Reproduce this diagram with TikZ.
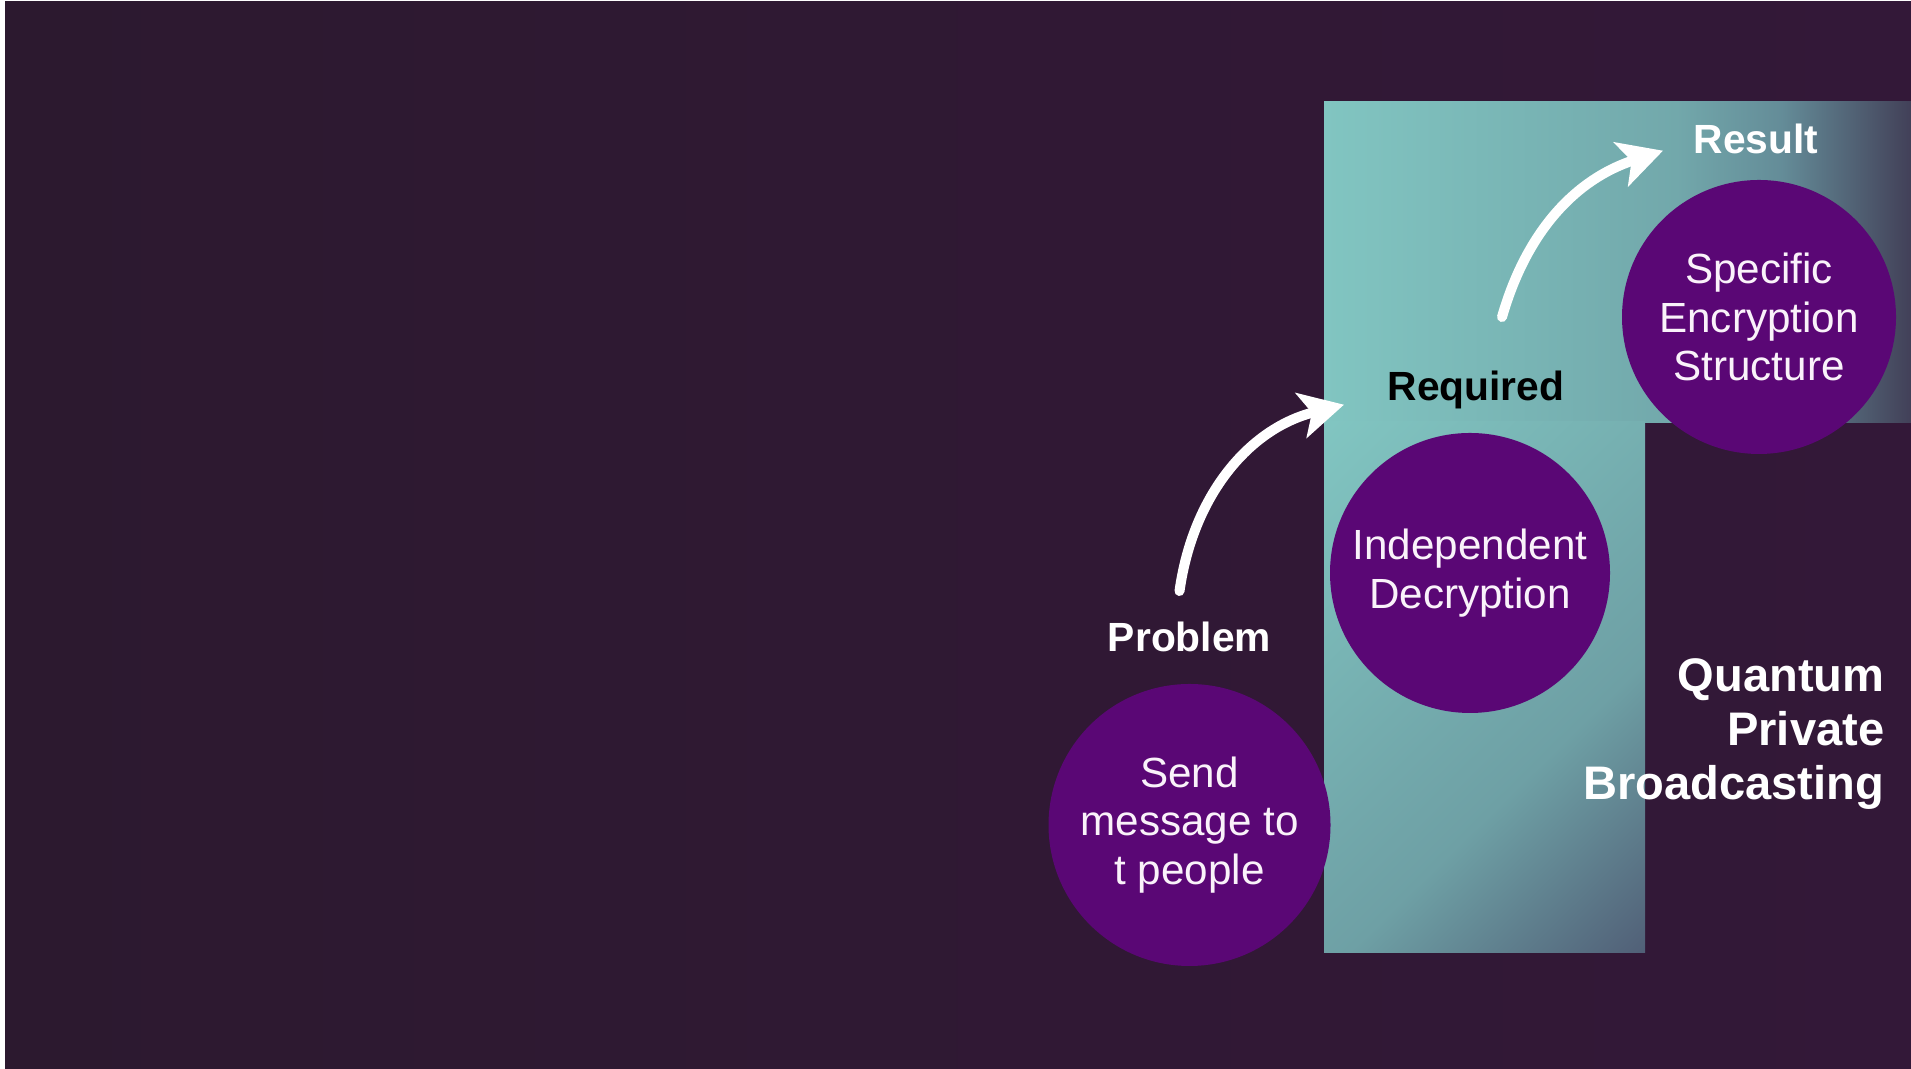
\documentclass[tikz,border=0pt]{standalone}
\usepackage{fontspec}
\setmainfont{Liberation Sans}
\usetikzlibrary{positioning}
\usetikzlibrary{arrows.meta}

\definecolor{bgleft}{RGB}{44,25,47}
\definecolor{bgright}{RGB}{51,24,56}
\definecolor{plum}{RGB}{90,7,117}
\definecolor{tealA}{RGB}{129,197,193}
\definecolor{tealB}{RGB}{114,168,171}
\definecolor{tealD}{RGB}{100,140,152}
\definecolor{tealE}{RGB}{110,160,165}
\definecolor{tealC}{RGB}{66,64,88}
\definecolor{slate}{RGB}{80,94,118}
\definecolor{softwhite}{RGB}{250,242,250}

% top bar darkens to the right, column darkens to its lower right corner
\pgfdeclarehorizontalshading{barfade}{100bp}{color(0bp)=(tealA); color(25bp)=(tealA); color(55bp)=(tealB); color(64bp)=(tealD); color(75bp)=(tealC); color(100bp)=(tealC)}
\pgfdeclarehorizontalshading{colfade}{100bp}{color(0bp)=(tealA); color(15bp)=(tealA); color(50bp)=(tealB); color(61bp)=(tealE); color(86bp)=(slate); color(100bp)=(slate)}

\tikzset{main node/.style={circle,fill=plum,minimum size=2.8cm,inner sep=0pt,text=softwhite,align=center,font=\fontsize{12}{13.9}\selectfont} }
\tikzset{head node/.style={inner sep=0pt,font=\fontsize{11.6}{14}\selectfont\bfseries} }
\tikzset{flow/.style={line width=2.85pt,white,line cap=round,-{Stealth[length=4.4mm,width=4.6mm,inset=1.1mm]}} }

\begin{document}
\begin{tikzpicture}
\useasboundingbox (0,0) rectangle (19.11,10.69);
\fill[white] (0,0) rectangle (19.11,10.69);
\shade[left color=bgleft,right color=bgright] (0.05,0) rectangle (19.11,10.67);

% teal backdrop: bar on top, column below it
\shade[shading=barfade] (13.24,6.46) rectangle (19.11,9.67);
\shade[shading=colfade,shading angle=-45.5] (13.24,1.16) rectangle (16.45,6.47);

  \node[main node,minimum size=2.82cm] (1) at (11.895,2.44) {Send\\message to\\t people};
  \node[main node] (2) at (14.70,4.96) {Independent\\Decryption};
  \node[main node,minimum size=2.74cm] (3) at (17.59,7.52) {Specific\\Encryption\\Structure};

  \node[head node,white,above=0.32cm of 1.north,anchor=base] (4) {Problem};
  \node[head node,black,above=0.32cm of 2.north,anchor=base,xshift=0.06cm] (5) {Required};
  \node[head node,white,above=0.26cm of 3.north,anchor=base,xshift=-0.03cm] (6) {Result};

  \node[white,inner sep=0pt,align=right,anchor=north east,font=\fontsize{13.4}{15.4}\selectfont\bfseries] (7) at (18.85,4.11) {Quantum\\Private\\Broadcasting};

  \draw[flow] ([xshift=-0.10cm,yshift=0.30cm]4.north) to[out=82,in=194] ([xshift=-0.43cm,yshift=-0.15cm]5.west);
  \draw[flow] ([xshift=0.26cm,yshift=0.53cm]5.north) to[out=74,in=198] ([xshift=-0.30cm,yshift=-0.12cm]6.west);
\end{tikzpicture}
\end{document}
